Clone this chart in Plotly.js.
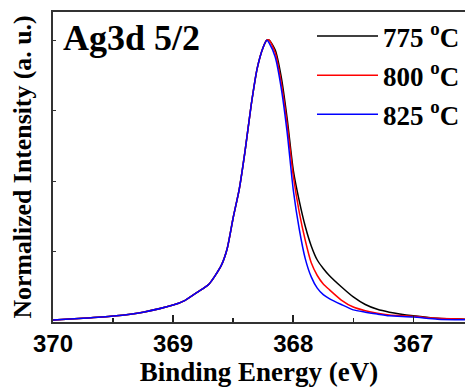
<!DOCTYPE html>
<html>
<head>
<meta charset="utf-8">
<script src="https://cdn.plot.ly/plotly-3.0.1.min.js"></script>
<style>html,body{margin:0;padding:0;background:#fff;}#chart{width:465px;height:389px;}</style>
</head>
<body>
<div id="chart"></div>
<script>
// Binding energy (eV)
var energy = [370.0, 369.75, 369.5, 369.25, 369.0, 368.9, 368.8, 368.7, 368.6, 368.55, 368.5, 368.45, 368.4, 368.35, 368.3, 368.25, 368.22, 368.2, 368.15, 368.1, 368.05, 368.0, 367.95, 367.9, 367.85, 367.8, 367.75, 367.7, 367.6, 367.5, 367.4, 367.3, 367.2, 367.0, 366.8, 366.57];
// Normalized intensity
var i775 = [0.007, 0.013, 0.021, 0.035, 0.06, 0.077, 0.105, 0.135, 0.20, 0.26, 0.37, 0.47, 0.61, 0.77, 0.90, 0.975, 1.0, 1.0, 0.965, 0.87, 0.72, 0.54, 0.43, 0.34, 0.27, 0.22, 0.19, 0.165, 0.125, 0.089, 0.062, 0.045, 0.035, 0.022, 0.013, 0.010];
var i800 = [0.007, 0.013, 0.021, 0.035, 0.06, 0.077, 0.105, 0.135, 0.20, 0.26, 0.37, 0.47, 0.61, 0.77, 0.90, 0.975, 1.0, 1.0, 0.955, 0.85, 0.70, 0.52, 0.39, 0.29, 0.21, 0.165, 0.135, 0.115, 0.078, 0.053, 0.040, 0.031, 0.025, 0.020, 0.013, 0.010];
var i825 = [0.007, 0.013, 0.021, 0.035, 0.06, 0.077, 0.105, 0.135, 0.20, 0.26, 0.37, 0.47, 0.61, 0.77, 0.90, 0.975, 1.0, 0.99, 0.94, 0.83, 0.67, 0.47, 0.33, 0.225, 0.16, 0.12, 0.097, 0.083, 0.062, 0.043, 0.035, 0.028, 0.022, 0.018, 0.010, 0.008];
var seriesNames = ['775 <sup>o</sup>C', '800 <sup>o</sup>C', '825 <sup>o</sup>C'];
var xTickVals = [370, 369, 368, 367];
var xTickText = ['370', '369', '368', '367'];
var panelLabel = 'Ag3d 5/2';

var colors = ['#000000', '#ff0000', '#0000ff'];
var series = [i775, i800, i825];
var data = series.map(function (s, k) {
  return {
    x: energy, y: s, type: 'scatter', mode: 'lines', name: seriesNames[k],
    legendgroup: 'g' + k,
    line: {color: colors[k], width: 1.5, shape: 'spline', smoothing: 0.6}
  };
});

var serif = 'Liberation Serif, Times New Roman, serif';
var layout = {
  width: 465, height: 389,
  margin: {l: 53, r: 0, t: 12, b: 67},
  paper_bgcolor: '#fff', plot_bgcolor: '#fff',
  showlegend: true,
  legend: {
    x: 1, y: 1, xanchor: 'right', yanchor: 'top',
    bgcolor: 'rgba(0,0,0,0)', borderwidth: 0,
    font: {family: serif, size: 27, color: '#000', weight: 'bold'},
    itemwidth: 61, tracegroupgap: 1
  },
  xaxis: {
    range: [370, 366.57], autorange: false,
    tickmode: 'array', tickvals: xTickVals, ticktext: xTickText,
    ticks: 'inside', ticklen: 7, tickwidth: 1.5, tickcolor: '#222',
    minor: {dtick: 0.5, ticks: 'inside', ticklen: 4, tickwidth: 1.5, tickcolor: '#222', showgrid: false},
    showline: true, linecolor: '#333', linewidth: 1.8, mirror: true,
    showgrid: false, zeroline: false,
    ticklabelstandoff: -1,
    tickfont: {family: 'Liberation Sans, Arial, sans-serif', size: 24, color: '#000', weight: 'bold'},
    title: {text: 'Binding Energy (eV)', font: {family: serif, size: 27, color: '#000', weight: 'bold'}, standoff: 6}
  },
  yaxis: {
    range: [0, 1.1], autorange: false,
    dtick: 0.25, tick0: 0,
    ticks: 'inside', ticklen: 3, tickwidth: 1, tickcolor: '#333',
    showticklabels: false,
    showline: true, linecolor: '#333', linewidth: 1.8, mirror: false,
    showgrid: false, zeroline: false,
    title: {text: 'Normalized Intensity (a. u.)', font: {family: serif, size: 25.8, color: '#000', weight: 'bold'}, standoff: 12}
  },
  annotations: [{
    text: panelLabel, xref: 'paper', yref: 'paper',
    x: 0.02, y: 0.917, xanchor: 'left', yanchor: 'middle', showarrow: false,
    font: {family: serif, size: 36, color: '#000', weight: 'bold'}
  }]
};
Plotly.newPlot('chart', data, layout, {displayModeBar: false, staticPlot: true});
</script>
</body>
</html>
